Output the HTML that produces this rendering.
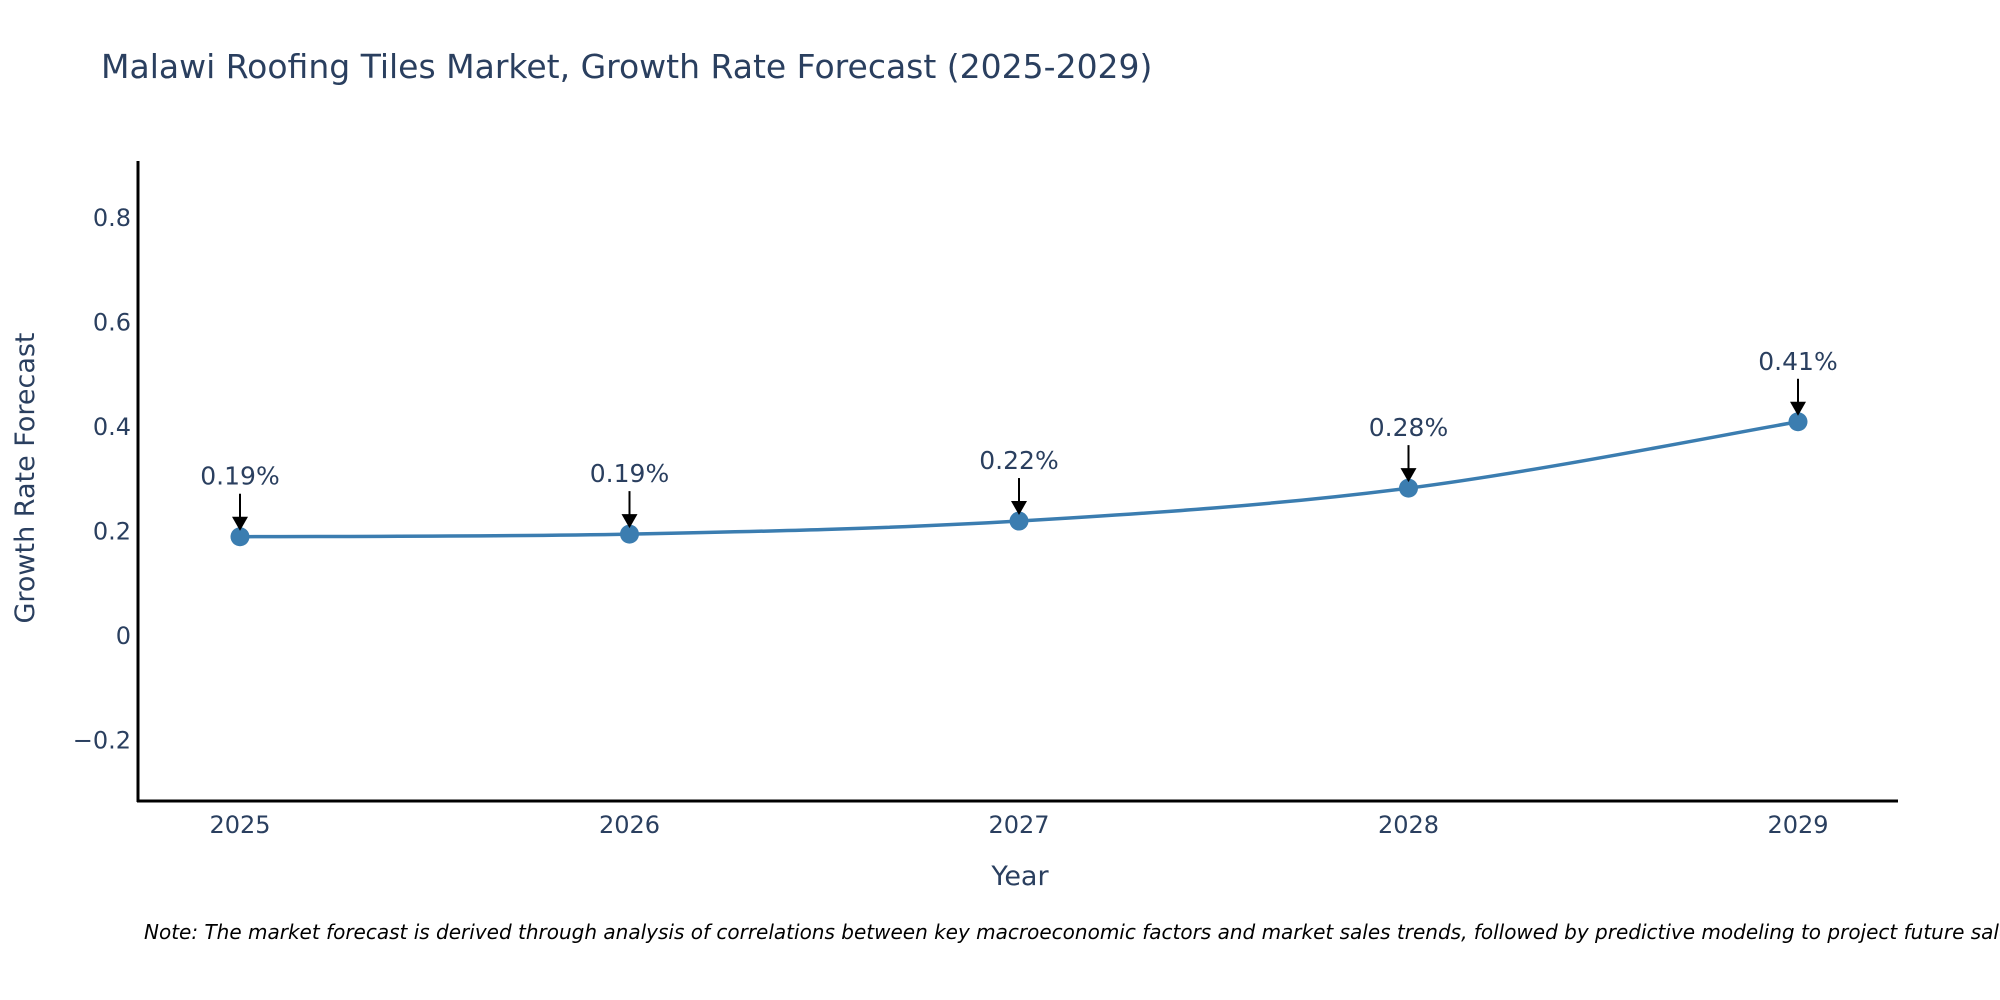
<!DOCTYPE html>
<html><head><meta charset="utf-8">
<style>
html,body{margin:0;padding:0;background:#fff;}
svg{display:block;font-family:"DejaVu Sans","Liberation Sans",sans-serif;}
</style></head>
<body>
<svg id="chart" width="2000" height="1000" viewBox="0 0 2000 1000">
  <text x="101" y="78" font-size="33" fill="#2a3f5f">Malawi Roofing Tiles Market, Growth Rate Forecast (2025-2029)</text>
  <g id="yticks"></g>
  <g id="xticks"></g>
  <line x1="138" y1="161" x2="138" y2="802" stroke="#000" stroke-width="3"/>
  <line x1="137" y1="801" x2="1898" y2="801" stroke="#000" stroke-width="3"/>
  <g id="series"></g>
  <g id="annots"></g>
  <text transform="translate(34,478) rotate(-90)" text-anchor="middle" font-size="27" fill="#2a3f5f">Growth Rate Forecast</text>
  <text x="1020" y="885" text-anchor="middle" font-size="27" fill="#2a3f5f">Year</text>
  <text x="144" y="939" font-size="20" font-style="italic" fill="#000">Note: The market forecast is derived through analysis of correlations between key macroeconomic factors and market sales trends, followed by predictive modeling to project future sales.</text>
</svg>
<script>
const years = [2025, 2026, 2027, 2028, 2029];
const growth = [0.19, 0.195, 0.22, 0.283, 0.41];
const labels = ["0.19%", "0.19%", "0.22%", "0.28%", "0.41%"];
const yTickValues = [-0.2, 0, 0.2, 0.4, 0.6, 0.8];
const yTickLabels = ["\u22120.2", "0", "0.2", "0.4", "0.6", "0.8"];

const NS = "http://www.w3.org/2000/svg";
function xs(v){ return 240 + (v - 2025) * 389.5; }
function ys(v){ return 636 - v * 522.5; }
function mk(tag, attrs, parent){ const e = document.createElementNS(NS, tag); for (const k in attrs) e.setAttribute(k, attrs[k]); parent.appendChild(e); return e; }

const yg = document.getElementById('yticks');
yTickValues.forEach((v, i) => {
  const t = mk('text', {x: 131, y: ys(v) + 8, 'text-anchor': 'end', 'font-size': 24, fill: '#2a3f5f'}, yg);
  
  
  t.textContent = yTickLabels[i];
});
const xg = document.getElementById('xticks');
years.forEach(y => {
  const t = mk('text', {x: xs(y), y: 833, 'text-anchor': 'middle', 'font-size': 24, fill: '#2a3f5f'}, xg);
  
  
  t.textContent = String(y);
});

const pts = years.map((y, i) => [xs(y), ys(growth[i])]);
let d = `M${pts[0][0]},${pts[0][1]}`;
for (let i = 0; i < pts.length - 1; i++) {
  const p0 = pts[Math.max(0, i - 1)], p1 = pts[i], p2 = pts[i + 1], p3 = pts[Math.min(pts.length - 1, i + 2)];
  const t = 0.17;
  const c1 = [p1[0] + (p2[0] - p0[0]) * t, p1[1] + (p2[1] - p0[1]) * t];
  const c2 = [p2[0] - (p3[0] - p1[0]) * t, p2[1] - (p3[1] - p1[1]) * t];
  d += ` C${c1[0]},${c1[1]} ${c2[0]},${c2[1]} ${p2[0]},${p2[1]}`;
}
const sg = document.getElementById('series');
const line = mk('path', {d: d, fill: 'none', stroke: '#3b7db0', 'stroke-width': 3.5}, sg);


pts.forEach(p => {
  const c = mk('circle', {cx: p[0], cy: p[1], r: 9.5, fill: '#3b7db0'}, sg);
  
  
});

const ag = document.getElementById('annots');
pts.forEach((p, i) => {
  const l = mk('line', {x1: p[0], y1: p[1] - 43, x2: p[0], y2: p[1] - 18, stroke: '#000', 'stroke-width': 2}, ag);
  
  
  const h = mk('polygon', {points: `${p[0]-8},${p[1]-20} ${p[0]+8},${p[1]-20} ${p[0]},${p[1]-6}`, fill: '#000'}, ag);
  
  
  const t = mk('text', {x: p[0], y: p[1] - 52, 'text-anchor': 'middle', 'font-size': 25, fill: '#2a3f5f'}, ag);
  
  
  t.textContent = labels[i];
});
</script>
</body></html>
